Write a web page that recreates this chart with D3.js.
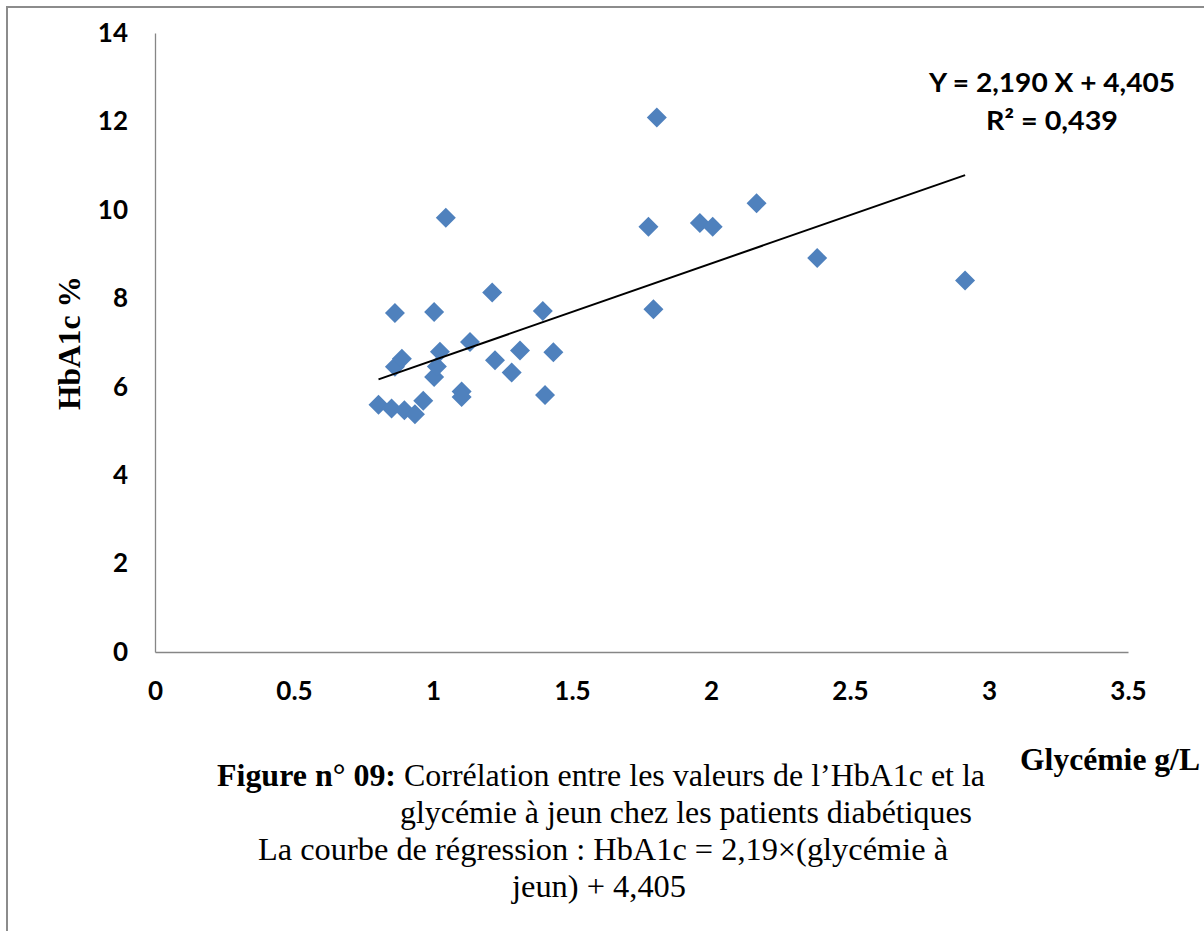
<!DOCTYPE html>
<html>
<head>
<meta charset="utf-8">
<script src="https://cdn.jsdelivr.net/npm/d3@7"></script>
<style>
  body { margin: 0; background: #fff; }
  svg { display: block; }
</style>
</head>
<body>
<div id="chart"></div>
<script>
// Glycémie (g/L) values
const glycemie = [0.804, 0.851, 0.897, 0.935, 0.965, 0.863, 0.863, 0.888, 1.004, 1.014,
  1.025, 1.004, 1.046, 1.103, 1.103, 1.133, 1.213, 1.223, 1.283, 1.313,
  1.395, 1.403, 1.433, 1.805, 1.775, 1.960, 2.006, 2.164, 2.382, 2.914, 1.793];
// HbA1c (%) values
const hba1c = [5.59, 5.51, 5.47, 5.38, 5.68, 7.67, 6.45, 6.63, 6.22, 6.46,
  6.79, 7.69, 9.82, 5.89, 5.77, 7.01, 8.13, 6.60, 6.32, 6.82,
  7.71, 5.81, 6.78, 12.09, 9.62, 9.70, 9.62, 10.15, 8.91, 8.40, 7.75];
const xTicks = [0, 0.5, 1, 1.5, 2, 2.5, 3, 3.5];
const yTicks = [0, 2, 4, 6, 8, 10, 12, 14];
const slope = 2.19, intercept = 4.405;
const eqLines = ["Y = 2,190 X + 4,405", "R\u00b2 = 0,439"];
const captionLines = [
  { bold: "Figure n\u00b0 09:", text: " Corr\u00e9lation entre les valeurs de l\u2019HbA1c et la" },
  { bold: "", text: "glyc\u00e9mie \u00e0 jeun chez les patients diab\u00e9tiques" },
  { bold: "", text: "La courbe de r\u00e9gression : HbA1c = 2,19\u00d7(glyc\u00e9mie \u00e0" },
  { bold: "", text: "jeun) + 4,405" }
];

const data = glycemie.map((g, i) => ({ x: g, y: hba1c[i] }));

const W = 1204, H = 931;
const svg = d3.select("#chart").append("svg")
  .attr("width", W).attr("height", H);

// outer frame (only top & left visible)
svg.append("path")
  .attr("d", `M7,${H} L7,7 L${W},7`)
  .attr("fill", "none").attr("stroke", "#8c8c8c").attr("stroke-width", 2);

const x = d3.scaleLinear().domain([0, 3.5]).range([155, 1128]);
const y = d3.scaleLinear().domain([0, 14]).range([652, 33]);

const tickFont = "Lato, 'Open Sans', sans-serif";
const serif = "'Liberation Serif', 'Times New Roman', serif";

// y axis
const yAxis = svg.append("g")
  .attr("transform", `translate(${x(0)},0)`)
  .call(d3.axisLeft(y).tickValues(yTicks).tickSize(0).tickPadding(27));
yAxis.select(".domain").attr("stroke", "#868686").attr("stroke-width", 1.3);
yAxis.selectAll("text")
  .attr("font-family", tickFont).attr("font-weight", "bold")
  .attr("font-size", 26).attr("fill", "#000");

// x axis
const xAxis = svg.append("g")
  .attr("transform", `translate(0,${y(0)})`)
  .call(d3.axisBottom(x).tickValues(xTicks).tickSize(0).tickPadding(30)
    .tickFormat(d => String(d)));
xAxis.select(".domain").attr("stroke", "#868686").attr("stroke-width", 1.3);
xAxis.selectAll("text")
  .attr("font-family", tickFont).attr("font-weight", "bold")
  .attr("font-size", 26).attr("fill", "#000");

// points
svg.append("g").selectAll("path")
  .data(data)
  .join("path")
  .attr("d", d3.symbol().type(d3.symbolSquare).size(200))
  .attr("transform", d => `translate(${x(d.x)},${y(d.y)}) rotate(45)`)
  .attr("fill", "#4f81bd");

// regression line
const xr = d3.extent(glycemie);
svg.append("path")
  .datum(xr.map(v => ({ x: v, y: slope * v + intercept })))
  .attr("fill", "none").attr("stroke", "#000").attr("stroke-width", 2)
  .attr("d", d3.line().x(d => x(d.x)).y(d => y(d.y)));

// equation
const eqLen = [246, 132];
svg.append("g").selectAll("text")
  .data(eqLines)
  .join("text")
  .attr("x", (d, i) => 1052 - eqLen[i] / 2).attr("y", (d, i) => 92 + i * 38)
  .attr("textLength", (d, i) => eqLen[i])
  .attr("lengthAdjust", "spacingAndGlyphs")
  .attr("font-family", tickFont).attr("font-weight", "bold")
  .attr("font-size", 26)
  .text(d => d);

// axis titles
svg.append("text")
  .attr("transform", "translate(80,410) rotate(-90)")
  .attr("textLength", 134).attr("lengthAdjust", "spacingAndGlyphs")
  .attr("font-family", serif)
  .attr("font-weight", "bold").attr("font-size", 31)
  .text("HbA1c %");

svg.append("text")
  .attr("x", 1020).attr("y", 770)
  .attr("textLength", 180).attr("lengthAdjust", "spacingAndGlyphs")
  .attr("font-family", serif)
  .attr("font-weight", "bold").attr("font-size", 31)
  .text("Glyc\u00e9mie g/L");

// caption
const capX = [217, 400, 258, 512];
const capLen = [768, 572, 690, 174];
const cap = svg.append("g")
  .attr("font-family", serif)
  .attr("font-size", 31);
captionLines.forEach((l, i) => {
  const t = cap.append("text")
    .attr("x", capX[i]).attr("y", 786 + i * 37)
    .attr("textLength", capLen[i])
    .attr("lengthAdjust", "spacingAndGlyphs");
  if (l.bold) t.append("tspan").attr("font-weight", "bold").text(l.bold);
  t.append("tspan").text(l.text);
});
</script>
</body>
</html>
